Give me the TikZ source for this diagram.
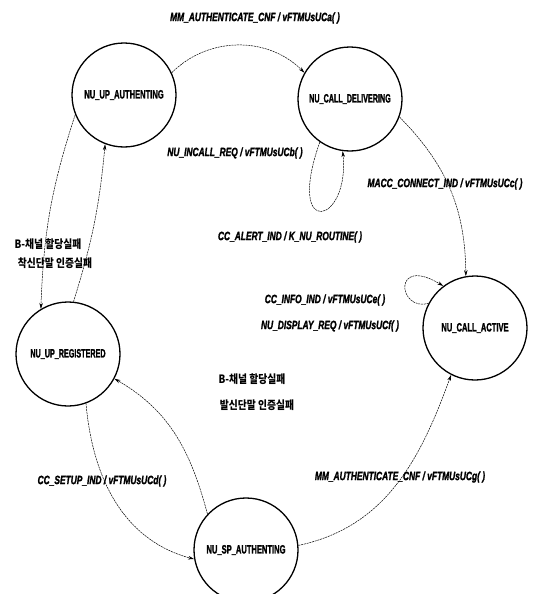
\documentclass[tikz,border=0pt]{standalone}
\usepackage{fontspec}
\setmainfont{Liberation Sans}[BoldFeatures={FakeBold=2}, BoldItalicFeatures={FakeBold=2}]
\newfontfamily\krfont{Noto Sans CJK KR}
\usepackage{graphicx}
\usetikzlibrary{arrows.meta}

% chu hep (condensed)
\newcommand{\narrowtxt}[2][0.70]{\scalebox{#1}[1]{#2}}

\tikzset{
    state/.style={draw, circle, line width=1.3pt, minimum size=104pt, inner sep=0pt,
        font=\fontsize{12}{13}\selectfont\bfseries},
    trans/.style={line width=0.5pt, dash pattern=on 2pt off 0.8pt, -{Stealth[length=6pt, width=3.5pt]}},
    evt/.style={font=\fontsize{12}{13}\selectfont\bfseries\itshape, inner sep=1pt},
    krlbl/.style={font=\krfont\fontsize{11.5}{12}\selectfont\bfseries, inner sep=1pt}
}

\begin{document}
\begin{tikzpicture}[x=1pt, y=1pt]

    % =================================================================
    % 1. KHUNG HINH
    % =================================================================
    \useasboundingbox (0,0) rectangle (533,-594);

    % =================================================================
    % 2. CAC TRANG THAI
    % =================================================================
    \node[state] (upAuth)     at (124,-95)  {\narrowtxt[0.63]{NU\_UP\_AUTHENTING}};
    \node[state] (callDeliv)  at (350,-99)  {\narrowtxt[0.6]{NU\_CALL\_DELIVERING}};
    \node[state] (callActive) at (475,-328) {\narrowtxt[0.63]{NU\_CALL\_ACTIVE}};
    \node[state] (upReg)      at (68,-354)  {\narrowtxt[0.6]{NU\_UP\_REGISTERED}};
    \node[state] (spAuth)     at (246,-550) {\narrowtxt[0.63]{NU\_SP\_AUTHENTING}};

    % =================================================================
    % 3. CAC CHUYEN TRANG THAI
    % =================================================================
    \draw[trans] (upAuth.25) to[bend left=45] (callDeliv.150);
    \draw[trans] (callDeliv.235) .. controls (285,-240) and (350,-225) .. (callDeliv.262);
    \draw[trans] (callDeliv.-20) to[bend left=22] (callActive.100);
    \draw[trans] (callActive.152) .. controls (398,-312) and (392,-255) .. (callActive.127);
    \draw[trans] (upAuth.202) to[bend right=8] (upReg.121);
    \draw[trans] (upReg.84) to[bend right=6] (upAuth.249);
    \draw[trans] (spAuth.137) to[out=105, in=-30] (upReg.-28);
    \draw[trans] (upReg.-70) to[out=-85, in=165] (spAuth.190);
    \draw[trans] (spAuth.5) to[out=12, in=250] (callActive.243);

    % =================================================================
    % 4. NHAN SU KIEN
    % =================================================================
    \node[evt] (lblA) at (255,-18)  {\narrowtxt{MM\_AUTHENTICATE\_CNF / vFTMUsUCa( )}};
    \node[evt] (lblB) at (235,-153) {\narrowtxt{NU\_INCALL\_REQ / vFTMUsUCb( )}};
    \node[evt] (lblC) at (445,-184) {\narrowtxt{MACC\_CONNECT\_IND / vFTMUsUCc( )}};
    \node[evt] (lblD) at (290,-237) {\narrowtxt{CC\_ALERT\_IND / K\_NU\_ROUTINE( )}};
    \node[evt] (lblE) at (325,-300) {\narrowtxt{CC\_INFO\_IND / vFTMUsUCe( )}};
    \node[evt] (lblF) at (330,-326) {\narrowtxt{NU\_DISPLAY\_REQ / vFTMUsUCf( )}};
    \node[evt] (lblG) at (102,-481) {\narrowtxt{CC\_SETUP\_IND / vFTMUsUCd( )}};
    \node[evt] (lblH) at (400,-477) {\narrowtxt{MM\_AUTHENTICATE\_CNF / vFTMUsUCg( )}};

    \node[krlbl] (krA1) at (48,-244)  {\narrowtxt[0.85]{B-채널 할당실패}};
    \node[krlbl] (krA2) at (55,-263)  {\narrowtxt[0.85]{착신단말 인증실패}};
    \node[krlbl] (krB1) at (252,-379) {\narrowtxt[0.85]{B-채널 할당실패}};
    \node[krlbl] (krB2) at (257,-405) {\narrowtxt[0.85]{발신단말 인증실패}};

\end{tikzpicture}
\end{document}
